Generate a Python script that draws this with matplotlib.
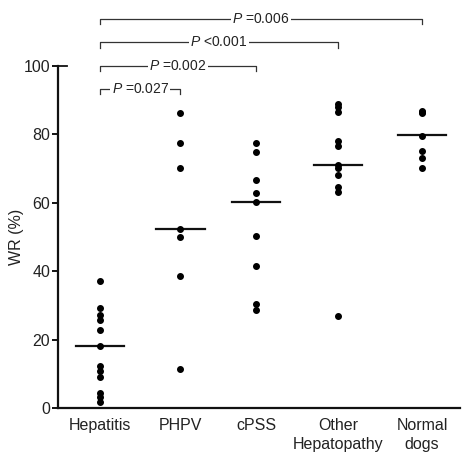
import matplotlib
matplotlib.use("Agg")
import matplotlib.pyplot as plt

plt.rcParams['font.family'] = ['Liberation Sans', 'DejaVu Sans']
plt.rcParams['mathtext.fontset'] = 'custom'
plt.rcParams['mathtext.it'] = 'Liberation Sans:italic'
plt.rcParams['mathtext.rm'] = 'Liberation Sans'

# groups and WR (%) values
groups = ["Hepatitis", "PHPV", "cPSS", "Other\nHepatopathy", "Normal\ndogs"]
hepatitis = [37, 29.1, 27.2, 25.8, 22.9, 18.0, 12.3, 10.9, 9.0, 4.5, 3.1, 1.8]
phpv = [86.4, 77.6, 70.3, 52.4, 50.0, 38.5, 11.5]
cpss = [77.6, 74.9, 66.6, 63.0, 60.3, 50.2, 41.4, 30.5, 28.7]
other = [88.9, 88.0, 86.6, 78.2, 76.6, 71.0, 70.3, 68.0, 64.7, 63.1, 26.8]
normal = [86.9, 86.5, 86.2, 79.6, 75.2, 73.2, 70.3]
values = [hepatitis, phpv, cpss, other, normal]
# median lines as drawn in the figure
medians = [18.0, 52.4, 60.3, 71.0, 79.8]

# comparisons: (target group index, label, bracket height)
comp_targets = [1, 2, 3, 4]
comp_labels = [r"$P$ =0.027", r"$P$ =0.002", r"$P$ <0.001", r"$P$ =0.006"]
comp_heights = [93.3, 100.1, 106.9, 113.7]

# category positions (slightly uneven like the original)
xpos = [0, 1, 1.94, 2.96, 4.0]

fig = plt.figure(figsize=(4.62, 4.54), dpi=100)
ax = fig.add_axes([0.1255, 0.1013, 0.870, 0.7533])

for x, vals, med in zip(xpos, values, medians):
    ax.plot([x] * len(vals), vals, 'o', color='black', ms=4.0, clip_on=False, zorder=3)
    ax.plot([x - 0.3, x + 0.3], [med, med], color='#111111', lw=1.6, zorder=2)

ax.set_xlim(-0.52, 4.47)
ax.set_ylim(0, 100)
ax.set_yticks([0, 20, 40, 60, 80, 100])
ax.set_xticks(xpos)
ax.set_xticklabels(groups, fontsize=11.5, color='#222222', va='top', linespacing=1.35)
ax.tick_params(axis='x', length=0, pad=7)
ax.tick_params(axis='y', length=4, width=1.3, labelsize=11.5, pad=1.5, labelcolor='#222222')
ax.set_ylabel("WR (%)", fontsize=11.5, color='#222222', labelpad=0)

for s in ['top', 'right']:
    ax.spines[s].set_visible(False)
for s in ['left', 'bottom']:
    ax.spines[s].set_linewidth(1.6)
    ax.spines[s].set_color('#111111')

# small cap at the top of the y axis
ax.plot([0, 0.022], [1, 1], transform=ax.transAxes, color='#111111', lw=1.3, clip_on=False)

# significance brackets
for t, lab, h in zip(comp_targets, comp_labels, comp_heights):
    x0, x1 = xpos[0], xpos[t]
    ax.plot([x0, x0, x1, x1], [h - 1.5, h, h, h - 1.5], color='#333333', lw=0.9,
            clip_on=False, zorder=1)
    ax.text((x0 + x1) / 2, h, lab, ha='center', va='center', fontsize=10,
            color='#222222', clip_on=False, zorder=2,
            bbox=dict(facecolor='white', edgecolor='none', pad=1.0))

fig.savefig("out.png", dpi=100)
